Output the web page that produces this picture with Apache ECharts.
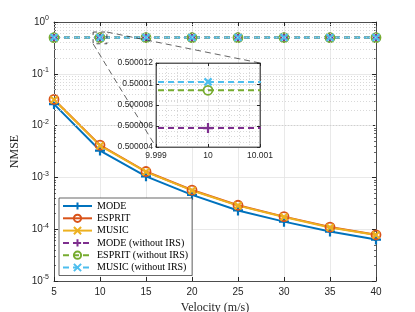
<!DOCTYPE html>
<html><head><meta charset="utf-8">
<script src="https://cdn.jsdelivr.net/npm/echarts@6/dist/echarts.min.js"></script>
<style>html,body{margin:0;padding:0;background:#fff}#c{width:415px;height:312px}</style>
</head><body><div id="c"></div>
<script>
// ---- data ----
const velocity = [5, 10, 15, 20, 25, 30, 35, 40];
const modeNMSE   = [0.026, 0.0033, 0.00105, 0.00046, 0.00023, 0.00014, 0.00009, 0.000063];
const espritNMSE = [0.032, 0.0042, 0.0013, 0.00057, 0.00029, 0.000175, 0.00011, 0.000078];
const musicNMSE  = [0.0315, 0.0041, 0.00128, 0.00056, 0.000285, 0.000172, 0.000108, 0.000077];
const modeNoIRS   = [0.5000057, 0.5000058, 0.5000057, 0.5000056, 0.5000058, 0.5000057, 0.5000056, 0.5000057];
const espritNoIRS = [0.5000093, 0.5000094, 0.5000094, 0.5000093, 0.5000094, 0.5000095, 0.5000094, 0.5000093];
const musicNoIRS  = [0.5000101, 0.5000102, 0.5000101, 0.5000102, 0.5000101, 0.5000102, 0.5000103, 0.5000101];
const seriesNames = ['MODE', 'ESPRIT', 'MUSIC', 'MODE (without IRS)', 'ESPRIT (without IRS)', 'MUSIC (without IRS)'];
const xTickInterval = 5;
const insetXRange = [9.999, 10.001];
const insetYRange = [0.500004, 0.500012];
const zoomBoxX = [9.25, 10.75];
const zoomBoxY = [0.38, 0.64];

const minorY = [];
for (let k = -5; k < 0; k++) for (let m = 2; m <= 9; m++) minorY.push(m * Math.pow(10, k));

const C = {mode:'#0072BD', esprit:'#D95319', music:'#EDB120', modeN:'#7E2F8E', espritN:'#77AC30', musicN:'#4DBEEE'};
const PLUS = 'path://M5,0L5,10M0,5L10,5';
const CROSS = 'path://M0,0L10,10M10,0L0,10';
const AX = '#262626';
const SERIF = "'Liberation Serif', 'Times New Roman', serif";
const SANS = "'Liberation Sans', Arial, sans-serif";

function mk(name, arr, color, sym, size, dashed, xi, yi, z) {
  const isPath = sym !== 'circle';
  return {
    name, type: 'line', xAxisIndex: xi, yAxisIndex: yi, z: z,
    data: velocity.map((v, i) => [v, arr[i]]),
    symbol: sym, symbolSize: size, showSymbol: true, clip: true,
    lineStyle: {color, width: 2, type: dashed ? [6, 4] : 'solid'},
    itemStyle: {color: 'rgba(0,0,0,0)', borderColor: color, borderWidth: isPath ? 2.2 : 1.8},
    emphasis: {disabled: true}
  };
}

const tickLbl = {fontFamily: SANS, fontSize: 10, color: AX};
const chart = echarts.init(document.getElementById('c'), null, {renderer: 'canvas'});

const option = {
  animation: false,
  grid: [
    {left: 54, right: 39, top: 22, bottom: 31, outerBoundsMode: 'none', containLabel: false},
    {left: 156, top: 63, width: 104, height: 84, show: true, backgroundColor: '#fff', borderColor: AX, borderWidth: 0.7, z: 5,
     outerBoundsMode: 'none', containLabel: false}
  ],
  xAxis: [
    {gridIndex: 0, type: 'value', min: 5, max: 40, interval: xTickInterval,
     axisLine: {lineStyle: {color: AX, width: 0.8}}, axisTick: {inside: true, length: 4, lineStyle: {color: AX}},
     axisLabel: Object.assign({margin: 6}, tickLbl),
     splitLine: {show: true, lineStyle: {color: '#e3e3e3', width: 0.8}},
     name: 'Velocity (m/s)', nameLocation: 'middle', nameGap: 15,
     nameTextStyle: {fontFamily: SERIF, fontSize: 12, color: AX}},
    {gridIndex: 0, type: 'value', position: 'top', min: 5, max: 40, interval: xTickInterval,
     axisLine: {lineStyle: {color: AX, width: 0.8}}, axisTick: {inside: true, length: 4, lineStyle: {color: AX}},
     axisLabel: {show: false}, splitLine: {show: false}},
    {gridIndex: 1, type: 'value', min: insetXRange[0], max: insetXRange[1], interval: 0.001, z: 6,
     axisLine: {lineStyle: {color: AX, width: 0.7}}, axisTick: {inside: true, length: 3, lineStyle: {color: AX}},
     axisLabel: {fontFamily: SANS, fontSize: 8.5, color: AX, margin: 4, formatter: v => String(+v.toFixed(3))},
     splitLine: {show: true, lineStyle: {color: '#e3e3e3', width: 0.8}},
     minorTick: {show: false}, minorSplitLine: {show: true, lineStyle: {color: '#cfcfcf', width: 0.8, type: [1, 2]}}},
    {gridIndex: 1, type: 'value', position: 'top', min: insetXRange[0], max: insetXRange[1], interval: 0.001, z: 6,
     axisLine: {lineStyle: {color: AX, width: 0.7}}, axisTick: {inside: true, length: 3, lineStyle: {color: AX}},
     axisLabel: {show: false}, splitLine: {show: false}}
  ],
  yAxis: [
    {gridIndex: 0, type: 'log', logBase: 10, min: 1e-5, max: 1,
     axisLine: {show: true, lineStyle: {color: AX, width: 0.8}}, axisTick: {show: true, inside: true, length: 4, lineStyle: {color: AX}},
     axisLabel: {margin: 5, formatter: v => '{b|10}{s|' + Math.round(Math.log10(v)) + '}',
       rich: {b: tickLbl, s: {fontFamily: SANS, fontSize: 7, color: AX, padding: [0, 0, 7, 0]}}},
     splitLine: {show: true, lineStyle: {color: '#e3e3e3', width: 0.8}},
     name: 'NMSE', nameLocation: 'middle', nameGap: 23,
     nameTextStyle: {fontFamily: SERIF, fontSize: 12, color: AX}},
    {gridIndex: 0, type: 'log', logBase: 10, min: 1e-5, max: 1, position: 'right',
     axisLine: {show: true, lineStyle: {color: AX, width: 0.8}}, axisTick: {show: true, inside: true, length: 4, lineStyle: {color: AX}},
     axisLabel: {show: false}, splitLine: {show: false}},
    {gridIndex: 1, type: 'value', min: insetYRange[0], max: insetYRange[1], interval: 0.000002, z: 6,
     axisLine: {show: true, lineStyle: {color: AX, width: 0.7}}, axisTick: {show: true, inside: true, length: 3, lineStyle: {color: AX}},
     axisLabel: {fontFamily: SANS, fontSize: 8.5, color: AX, margin: 3, formatter: v => String(+v.toFixed(6))},
     splitLine: {show: true, lineStyle: {color: '#e3e3e3', width: 0.8}},
     minorSplitLine: {show: true, lineStyle: {color: '#cfcfcf', width: 0.8, type: [1, 2]}}, minorTick: {show: false, splitNumber: 4}},
    {gridIndex: 1, type: 'value', min: insetYRange[0], max: insetYRange[1], interval: 0.000002, position: 'right', z: 6,
     axisLine: {show: true, lineStyle: {color: AX, width: 0.7}}, axisTick: {show: true, inside: true, length: 3, lineStyle: {color: AX}},
     axisLabel: {show: false}, splitLine: {show: false}},
    {gridIndex: 0, type: 'log', logBase: 10, min: 1e-5, max: 1, position: 'left',
     axisLine: {show: false}, axisTick: {show: true, inside: true, length: 2, customValues: minorY, lineStyle: {color: AX, width: 0.7}},
     axisLabel: {show: false}, splitLine: {show: false}},
    {gridIndex: 0, type: 'log', logBase: 10, min: 1e-5, max: 1, position: 'right',
     axisLine: {show: false}, axisTick: {show: true, inside: true, length: 2, customValues: minorY, lineStyle: {color: AX, width: 0.7}},
     axisLabel: {show: false}, splitLine: {show: false}}
  ],
  legend: {
    data: seriesNames, orient: 'vertical', left: 59, top: 198,
    itemWidth: 29, itemHeight: 9, itemGap: 2.3, padding: [3, 4, 3, 3],
    textStyle: {fontFamily: SERIF, fontSize: 10, color: '#000', lineHeight: 10},
    backgroundColor: '#fff', borderColor: AX, borderWidth: 0.7, borderRadius: 0, z: 10,
    selectedMode: false
  },
  series: [
    {type: 'line', data: [], xAxisIndex: 0, yAxisIndex: 0, z: 1, silent: true,
     markLine: {symbol: 'none', silent: true, label: {show: false},
       lineStyle: {color: '#cfcfcf', width: 0.8, type: [1, 2]},
       data: minorY.map(v => ({yAxis: v}))}},
    mk('MODE', modeNMSE, C.mode, PLUS, 10, false, 0, 0, 2),
    mk('ESPRIT', espritNMSE, C.esprit, 'circle', 9, false, 0, 0, 2),
    mk('MUSIC', musicNMSE, C.music, CROSS, 7, false, 0, 0, 2),
    mk('MODE (without IRS)', modeNoIRS, C.modeN, PLUS, 10, true, 0, 0, 2),
    mk('ESPRIT (without IRS)', espritNoIRS, C.espritN, 'circle', 9, true, 0, 0, 2),
    mk('MUSIC (without IRS)', musicNoIRS, C.musicN, CROSS, 7, true, 0, 0, 2),
    mk('MODE (without IRS)', modeNoIRS, C.modeN, PLUS, 10, true, 2, 2, 7),
    mk('ESPRIT (without IRS)', espritNoIRS, C.espritN, 'circle', 9, true, 2, 2, 7),
    mk('MUSIC (without IRS)', musicNoIRS, C.musicN, CROSS, 7, true, 2, 2, 7)
  ]
};
chart.setOption(option);

// zoom box and connector lines, positioned through the axes
const p = (x, y, gi) => chart.convertToPixel({gridIndex: gi}, [x, y]);
const b1 = p(zoomBoxX[0], zoomBoxY[1], 0), b2 = p(zoomBoxX[1], zoomBoxY[0], 0);
const i1 = p(insetXRange[0], insetYRange[1], 1), i2 = p(insetXRange[1], insetYRange[0], 1);
chart.setOption({graphic: [
  {type: 'rect', z: 20, silent: true, shape: {x: b1[0], y: b1[1], width: b2[0] - b1[0], height: b2[1] - b1[1]},
   style: {fill: 'none', stroke: '#222', lineWidth: 0.8, lineDash: [4, 4]}},
  {type: 'line', z: 20, silent: true, shape: {x1: b2[0], y1: b1[1], x2: i2[0], y2: i1[1]},
   style: {stroke: '#222', lineWidth: 0.7, lineDash: [6, 4]}},
  {type: 'line', z: 20, silent: true, shape: {x1: b1[0], y1: b2[1], x2: i1[0], y2: i2[1]},
   style: {stroke: '#222', lineWidth: 0.7, lineDash: [6, 4]}}
]});
</script></body></html>
